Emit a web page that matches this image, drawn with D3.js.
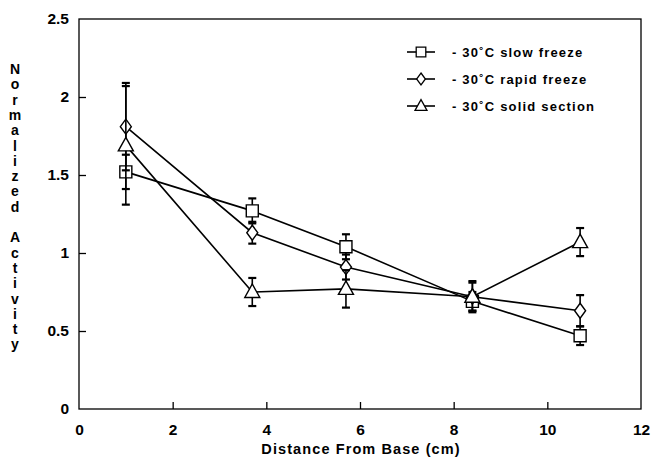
<!DOCTYPE html>
<html>
<head>
<meta charset="utf-8">
<script src="https://cdn.jsdelivr.net/npm/d3@7"></script>
<style>
  body { margin: 0; background: #fff; }
  text { font-family: "Liberation Sans", Arial, sans-serif; font-weight: bold; fill: #000; }
</style>
</head>
<body>
<div id="chart"></div>
<script>
// distance from base (cm)
const distances = [1.0, 3.7, 5.7, 8.4, 10.7];

const slowFreeze = [1.52, 1.27, 1.04, 0.69, 0.47];
const slowErr    = [0.11, 0.08, 0.08, 0.06, 0.06];

const rapidFreeze = [1.81, 1.13, 0.91, 0.72, 0.63];
const rapidErr    = [0.28, 0.07, 0.08, 0.09, 0.10];

const solidSection = [1.69, 0.75, 0.77, 0.72, 1.07];
const solidErr     = [0.38, 0.09, 0.12, 0.10, 0.09];

const xTicks = [0, 2, 4, 6, 8, 10, 12];
const yTicks = [0, 0.5, 1, 1.5, 2, 2.5];

const seriesNames = ["- 30\u02DAC slow freeze", "- 30\u02DAC rapid freeze", "- 30\u02DAC solid section"];

const W = 652, H = 457;
const margin = { top: 19, right: 11, bottom: 48, left: 79 };
const width = W - margin.left - margin.right;
const height = H - margin.top - margin.bottom;

const svg = d3.select("#chart").append("svg").attr("width", W).attr("height", H);
const g = svg.append("g").attr("transform", `translate(${margin.left},${margin.top})`);

const x = d3.scaleLinear().domain([0, 12]).range([0, width]);
const y = d3.scaleLinear().domain([0, 2.5]).range([height, 0]);

// frame
g.append("rect").attr("width", width).attr("height", height)
  .attr("fill", "none").attr("stroke", "#000").attr("stroke-width", 1.3);

// axes with inward ticks
const xAxis = g.append("g").attr("transform", `translate(0,${height})`)
  .call(d3.axisBottom(x).tickValues(xTicks).tickSize(-7).tickPadding(15).tickFormat(d3.format("d")));
const yAxis = g.append("g")
  .call(d3.axisLeft(y).tickValues(yTicks).tickSize(-7).tickPadding(10).tickFormat(d => d));
[xAxis, yAxis].forEach(a => {
  a.select(".domain").remove();
  a.selectAll(".tick line").attr("stroke", "#000").attr("stroke-width", 1.3);
  a.selectAll(".tick text").style("font-size", "15.5px").style("font-weight", "bold");
});
xAxis.selectAll(".tick").filter(d => d === 0 || d === 12).select("line").remove();
yAxis.selectAll(".tick").filter(d => d === 0 || d === 2.5).select("line").remove();

// axis titles
svg.append("text").attr("x", 361).attr("y", 454).attr("text-anchor", "middle")
  .style("font-size", "14.5px").style("letter-spacing", "1.1px").text("Distance From Base (cm)");

const ylab = "Normalized Activity";
const ylabel = svg.append("text").attr("text-anchor", "middle").style("font-size", "14px");
ylabel.selectAll("tspan").data(ylab.split("")).join("tspan")
  .attr("x", 15).attr("y", (d, i) => 74 + i * 15.3)
  .text(d => d === " " ? "\u00A0" : d);

// markers
const markerPath = {
  square: "M-6,-6H6V6H-6Z",
  diamond: "M0,-7.5L5.5,0L0,7.5L-5.5,0Z",
  triangle: "M0,-8L7.5,5.5H-7.5Z"
};

const series = [
  { name: seriesNames[0], values: slowFreeze, err: slowErr, shape: "square" },
  { name: seriesNames[1], values: rapidFreeze, err: rapidErr, shape: "diamond" },
  { name: seriesNames[2], values: solidSection, err: solidErr, shape: "triangle" }
];

const line = d3.line().x(d => x(d.x)).y(d => y(d.y));

series.forEach(s => {
  const pts = distances.map((d, i) => ({ x: d, y: s.values[i], e: s.err[i] }));
  // error bars
  const eb = g.append("g").attr("stroke", "#000");
  pts.forEach(p => {
    eb.append("line").attr("x1", x(p.x)).attr("x2", x(p.x))
      .attr("y1", y(p.y - p.e)).attr("y2", y(p.y + p.e)).attr("stroke-width", 1.6);
    [p.y - p.e, p.y + p.e].forEach(v => {
      eb.append("line").attr("x1", x(p.x) - 4).attr("x2", x(p.x) + 4)
        .attr("y1", y(v)).attr("y2", y(v)).attr("stroke-width", 2.2);
    });
  });
  g.append("path").datum(pts).attr("d", line)
    .attr("fill", "none").attr("stroke", "#000").attr("stroke-width", 1.6);
  g.selectAll(null).data(pts).join("path")
    .attr("transform", d => `translate(${x(d.x)},${y(d.y)})`)
    .attr("d", markerPath[s.shape])
    .attr("fill", "#fff").attr("stroke", "#000").attr("stroke-width", 1.4);
});

// legend
const legend = svg.append("g");
series.forEach((s, i) => {
  const ly = 52 + i * 27;
  legend.append("line").attr("x1", 407).attr("x2", 435).attr("y1", ly).attr("y2", ly)
    .attr("stroke", "#000").attr("stroke-width", 1.6);
  legend.append("path").attr("transform", `translate(421,${ly}) scale(0.8)`).attr("d", markerPath[s.shape])
    .attr("fill", "#fff").attr("stroke", "#000").attr("stroke-width", 1.6);
  legend.append("text").attr("x", 452).attr("y", ly + 5).style("font-size", "13px")
    .style("letter-spacing", "1.2px").text(s.name);
});
</script>
</body>
</html>
